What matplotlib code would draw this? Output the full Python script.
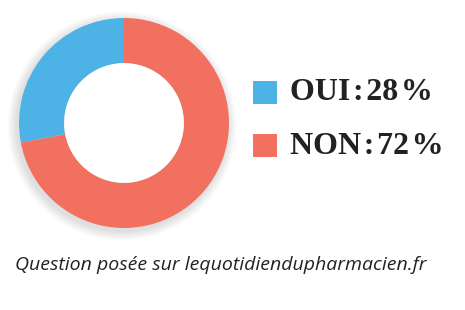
import matplotlib.pyplot as plt
from matplotlib.patches import Circle, Rectangle

# Données
etiquettes = ['OUI', 'NON']
valeurs = [28, 72]
couleurs = ['#4DB3E6', '#F1705F']
legende = ['OUI\u200a:\u200a28\u200a%', 'NON\u200a:\u200a72\u200a%']
source = 'Question posée sur lequotidiendupharmacien.fr'

W, H = 465, 310
fig = plt.figure(figsize=(W / 100, H / 100), dpi=100)
ax = fig.add_axes([0, 0, 1, 1])

cx, cy, r = 124, H - 123, 105

# Ombre légère autour de l'anneau
for i in range(8):
    ax.add_patch(Circle((cx - 2, cy - 3), r + 1 + i * 1.2, color='black',
                        alpha=0.015, lw=0, zorder=0))

ax.pie(valeurs, colors=couleurs, startangle=90, counterclock=True,
       center=(cx, cy), radius=r,
       wedgeprops=dict(width=r * 0.43, linewidth=0))
ax.add_patch(Circle((cx, cy), r * 0.57, color='white', lw=0, zorder=5))

# Légende
for i, (c, t) in enumerate(zip(couleurs, legende)):
    y = H - 93 - i * 53
    ax.add_patch(Rectangle((253, y - 11), 24, 23, color=c, lw=0))
    ax.text(290, y, t, fontsize=23, fontweight='bold',
            family=['Liberation Serif', 'DejaVu Serif'],
            color='#222222', va='center', ha='left')

ax.text(15, H - 270, source, fontsize=14, style='italic', color='#222222',
        family=['Open Sans', 'DejaVu Sans'], va='baseline', ha='left')

ax.set_xlim(0, W)
ax.set_ylim(0, H)
ax.set_aspect('auto')
ax.axis('off')
fig.savefig('out.png', dpi=100)
